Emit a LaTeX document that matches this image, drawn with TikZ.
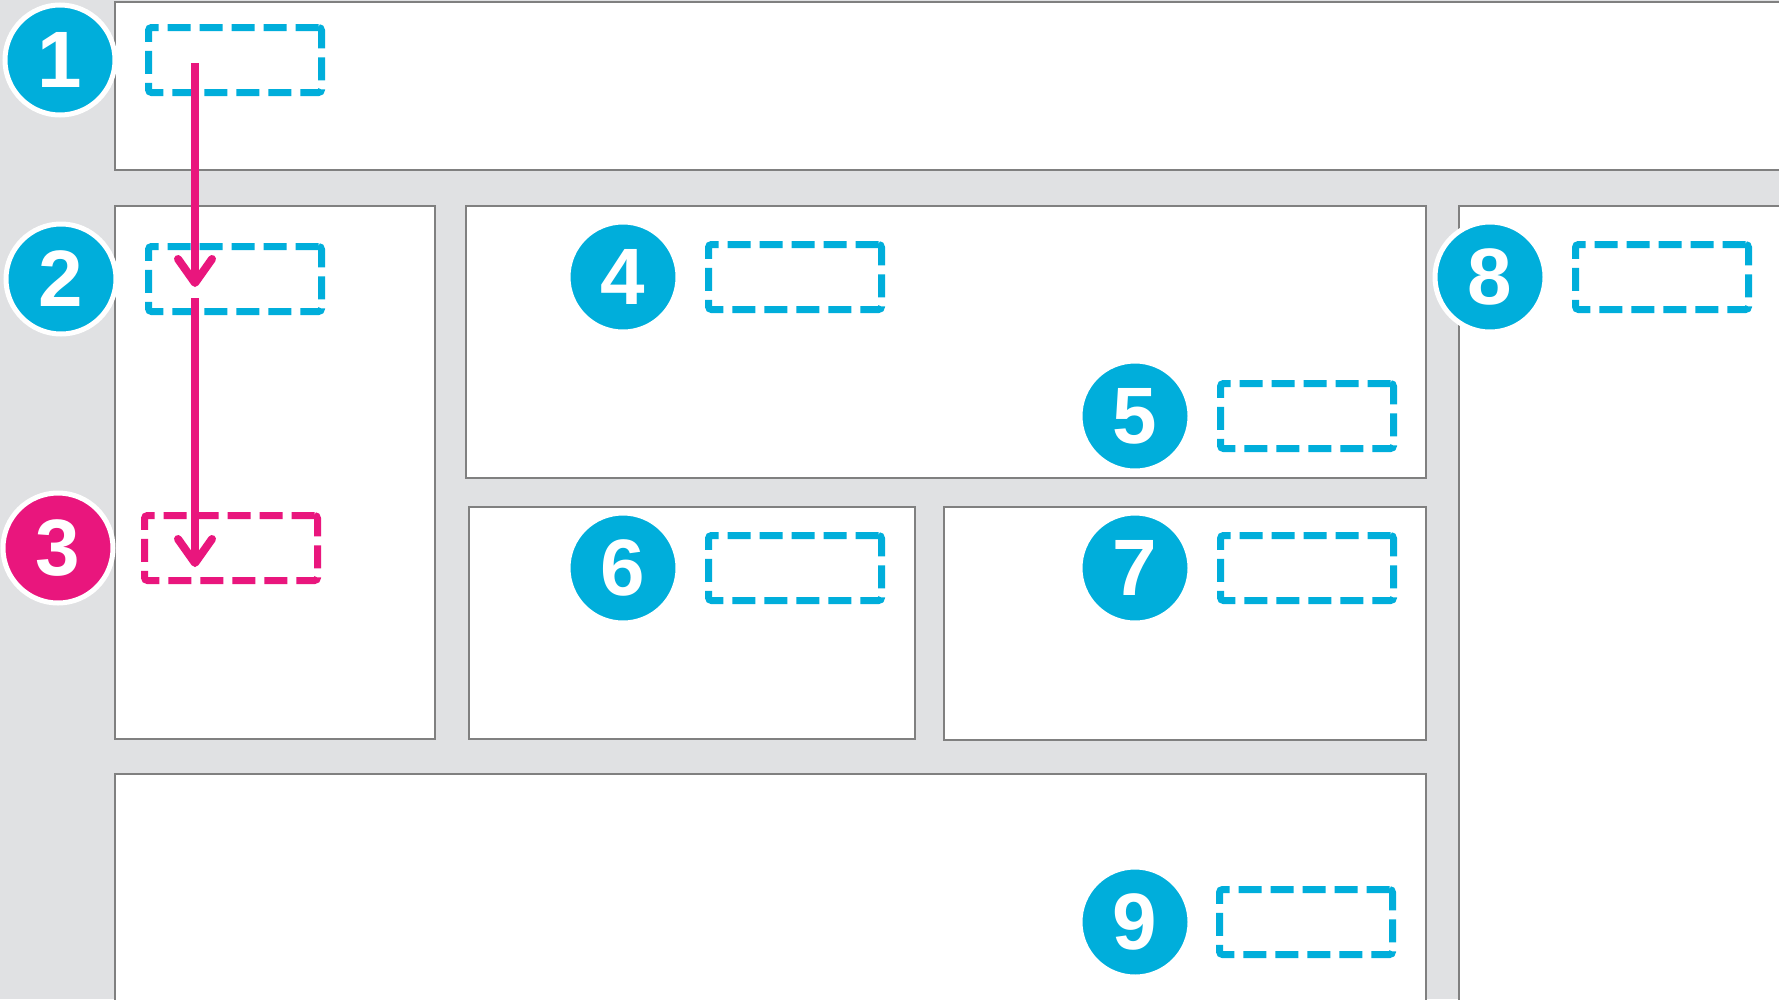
\documentclass[tikz,border=0pt]{standalone}
\usepackage{fontspec}
\setmainfont{Liberation Sans}
\newfontfamily\badgefont{Liberation Sans}
\newcommand\badgenum{\badgefont\bfseries\fontsize{80}{80}\selectfont}
\usetikzlibrary{positioning,arrows.meta}
\definecolor{callblue}{RGB}{0,174,219}
\definecolor{callpink}{RGB}{233,22,125}
\definecolor{linen}{RGB}{224,225,227}
\definecolor{panelgray}{RGB}{128,128,128}

\begin{document}
\begin{tikzpicture}[x=1pt, y=-1pt,
panel/.style={rectangle, draw=panelgray, fill=white, line width=2pt, anchor=north west, inner sep=0pt, outer sep=0pt},
badge/.style={circle, fill=callblue, draw=white, line width=5pt, minimum size=110pt, inner sep=0pt, text=white},
slot/.style={rectangle, draw=callblue, line width=7pt, dash pattern=on 23pt off 9pt, rounded corners=3pt, minimum width=173pt, minimum height=65pt, inner sep=0pt},
flow/.style={draw=callpink, line width=8pt, -{Straight Barb[length=24pt,width=34pt,round]}}
]
\useasboundingbox (0,0) rectangle (1779,999);
\fill[linen] (0,0) rectangle (1779,999);
\clip (0,0) rectangle (1779,999);

% page regions
\node[panel, minimum width=1690pt, minimum height=168pt](header) at (115,2){};
\node[panel, minimum width=320pt, minimum height=533pt](sidebar) at (115,206){};
\node[panel, minimum width=960pt, minimum height=272pt](hero) at (466,206){};
\node[panel, minimum width=446pt, minimum height=232pt](leftcard) at (469,507){};
\node[panel, minimum width=482pt, minimum height=233pt](rightcard) at (944,507){};
\node[panel, minimum width=340pt, minimum height=820pt](aside) at (1459,206){};
\node[panel, minimum width=1311pt, minimum height=250pt](footer) at (115,774){};

% numbered slots
\node[badge](c1) at (60,60){\badgenum 1};
\node[slot](s1)[right of = c1, node distance=175pt]{};
\node[badge](c2) at (61,279){\badgenum 2};
\node[slot](s2)[right of = c2, node distance=174pt]{};
\node[badge, fill=callpink](c3) at (58,548){\badgenum 3};
\node[slot, draw=callpink](s3)[right of = c3, node distance=173pt]{};
\node[badge](c4) at (623,277){\badgenum 4};
\node[slot](s4)[right of = c4, node distance=172pt]{};
\node[badge](c5) at (1135,416){\badgenum 5};
\node[slot](s5)[right of = c5, node distance=172pt]{};
\node[badge](c6) at (623,568){\badgenum 6};
\node[slot](s6)[right of = c6, node distance=172pt]{};
\node[badge](c7) at (1135,568){\badgenum 7};
\node[slot](s7)[right of = c7, node distance=172pt]{};
\node[badge](c8) at (1490,277){\badgenum 8};
\node[slot](s8)[right of = c8, node distance=172pt]{};
\node[badge](c9) at (1135,922){\badgenum 9};
\node[slot](s9)[right of = c9, node distance=171pt]{};

\draw[flow] ([xshift=-40pt,yshift=-3pt]s1.center) -- ([xshift=-40pt,yshift=-8pt]s2.center);
\draw[flow] ([xshift=-40pt,yshift=-19pt]s2.center) -- ([xshift=-36pt,yshift=-19pt]s3.center);

\end{tikzpicture}
\end{document}
